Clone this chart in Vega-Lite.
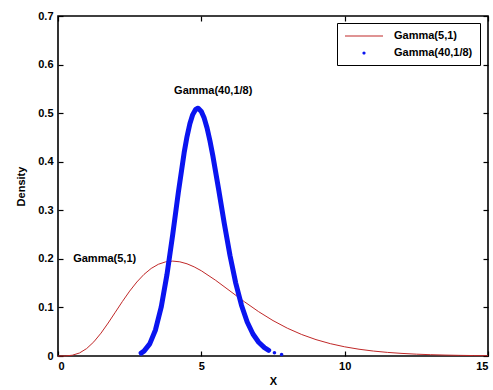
{
  "$schema": "https://vega.github.io/schema/vega-lite/v6.json",
  "width": 430,
  "height": 340,
  "autosize": {"type": "none"},
  "padding": {"left": 58, "top": 16, "right": 5, "bottom": 34},
  "background": "white",
  "config": {
    "view": {"stroke": "black", "strokeWidth": 1.6},
    "font": "Liberation Sans",
    "axis": {
      "grid": false,
      "domain": false,
      "tickColor": "black",
      "tickWidth": 1.2,
      "tickSize": 5,
      "offset": -5,
      "labelColor": "black",
      "titleColor": "black",
      "labelFont": "Liberation Sans",
      "labelFontSize": 11,
      "labelFontWeight": "bold",
      "titleFont": "Liberation Sans",
      "titleFontSize": 11,
      "titleFontWeight": "bold"
    }
  },
  "datasets": {
    "red": [
      {"x": 0, "density": 0, "series": "Gamma(5,1)"},
      {"x": 0.25, "density": 0.00013, "series": "Gamma(5,1)"},
      {"x": 0.5, "density": 0.00158, "series": "Gamma(5,1)"},
      {"x": 0.75, "density": 0.00623, "series": "Gamma(5,1)"},
      {"x": 1.0, "density": 0.01533, "series": "Gamma(5,1)"},
      {"x": 1.25, "density": 0.02914, "series": "Gamma(5,1)"},
      {"x": 1.5, "density": 0.04707, "series": "Gamma(5,1)"},
      {"x": 1.75, "density": 0.06791, "series": "Gamma(5,1)"},
      {"x": 2.0, "density": 0.09022, "series": "Gamma(5,1)"},
      {"x": 2.25, "density": 0.11255, "series": "Gamma(5,1)"},
      {"x": 2.5, "density": 0.1336, "series": "Gamma(5,1)"},
      {"x": 2.75, "density": 0.15234, "series": "Gamma(5,1)"},
      {"x": 3.0, "density": 0.16803, "series": "Gamma(5,1)"},
      {"x": 3.25, "density": 0.18024, "series": "Gamma(5,1)"},
      {"x": 3.5, "density": 0.18881, "series": "Gamma(5,1)"},
      {"x": 3.75, "density": 0.19378, "series": "Gamma(5,1)"},
      {"x": 4.0, "density": 0.19537, "series": "Gamma(5,1)"},
      {"x": 4.25, "density": 0.1939, "series": "Gamma(5,1)"},
      {"x": 4.5, "density": 0.18981, "series": "Gamma(5,1)"},
      {"x": 4.75, "density": 0.18351, "series": "Gamma(5,1)"},
      {"x": 5.0, "density": 0.17547, "series": "Gamma(5,1)"},
      {"x": 5.5, "density": 0.15582, "series": "Gamma(5,1)"},
      {"x": 6.0, "density": 0.13385, "series": "Gamma(5,1)"},
      {"x": 6.5, "density": 0.11182, "series": "Gamma(5,1)"},
      {"x": 7.0, "density": 0.09123, "series": "Gamma(5,1)"},
      {"x": 7.5, "density": 0.07292, "series": "Gamma(5,1)"},
      {"x": 8.0, "density": 0.05725, "series": "Gamma(5,1)"},
      {"x": 8.5, "density": 0.04426, "series": "Gamma(5,1)"},
      {"x": 9.0, "density": 0.03374, "series": "Gamma(5,1)"},
      {"x": 9.5, "density": 0.0254, "series": "Gamma(5,1)"},
      {"x": 10.0, "density": 0.01892, "series": "Gamma(5,1)"},
      {"x": 10.5, "density": 0.01395, "series": "Gamma(5,1)"},
      {"x": 11.0, "density": 0.01019, "series": "Gamma(5,1)"},
      {"x": 11.5, "density": 0.00738, "series": "Gamma(5,1)"},
      {"x": 12.0, "density": 0.00531, "series": "Gamma(5,1)"},
      {"x": 12.5, "density": 0.00379, "series": "Gamma(5,1)"},
      {"x": 13.0, "density": 0.00269, "series": "Gamma(5,1)"},
      {"x": 13.5, "density": 0.0019, "series": "Gamma(5,1)"},
      {"x": 14.0, "density": 0.00133, "series": "Gamma(5,1)"},
      {"x": 14.5, "density": 0.00093, "series": "Gamma(5,1)"},
      {"x": 15.0, "density": 0.00065, "series": "Gamma(5,1)"}
    ],
    "blue": [
      {"x": 2.9, "density": 0.00592, "series": "Gamma(40,1/8)"},
      {"x": 3.0, "density": 0.00997, "series": "Gamma(40,1/8)"},
      {"x": 3.2, "density": 0.02494, "series": "Gamma(40,1/8)"},
      {"x": 3.4, "density": 0.05358, "series": "Gamma(40,1/8)"},
      {"x": 3.6, "density": 0.10049, "series": "Gamma(40,1/8)"},
      {"x": 3.8, "density": 0.16716, "series": "Gamma(40,1/8)"},
      {"x": 4.0, "density": 0.24944, "series": "Gamma(40,1/8)"},
      {"x": 4.2, "density": 0.33765, "series": "Gamma(40,1/8)"},
      {"x": 4.4, "density": 0.41833, "series": "Gamma(40,1/8)"},
      {"x": 4.5, "density": 0.45155, "series": "Gamma(40,1/8)"},
      {"x": 4.6, "density": 0.47812, "series": "Gamma(40,1/8)"},
      {"x": 4.7, "density": 0.497, "series": "Gamma(40,1/8)"},
      {"x": 4.8, "density": 0.50758, "series": "Gamma(40,1/8)"},
      {"x": 4.875, "density": 0.51, "series": "Gamma(40,1/8)"},
      {"x": 4.9, "density": 0.5097, "series": "Gamma(40,1/8)"},
      {"x": 5.0, "density": 0.50357, "series": "Gamma(40,1/8)"},
      {"x": 5.1, "density": 0.48983, "series": "Gamma(40,1/8)"},
      {"x": 5.2, "density": 0.46934, "series": "Gamma(40,1/8)"},
      {"x": 5.3, "density": 0.44328, "series": "Gamma(40,1/8)"},
      {"x": 5.4, "density": 0.41293, "series": "Gamma(40,1/8)"},
      {"x": 5.6, "density": 0.34434, "series": "Gamma(40,1/8)"},
      {"x": 5.8, "density": 0.27319, "series": "Gamma(40,1/8)"},
      {"x": 6.0, "density": 0.2069, "series": "Gamma(40,1/8)"},
      {"x": 6.2, "density": 0.15005, "series": "Gamma(40,1/8)"},
      {"x": 6.4, "density": 0.10451, "series": "Gamma(40,1/8)"},
      {"x": 6.6, "density": 0.07006, "series": "Gamma(40,1/8)"},
      {"x": 6.8, "density": 0.04533, "series": "Gamma(40,1/8)"},
      {"x": 7.0, "density": 0.02834, "series": "Gamma(40,1/8)"},
      {"x": 7.2, "density": 0.01716, "series": "Gamma(40,1/8)"},
      {"x": 7.35, "density": 0.0118, "series": "Gamma(40,1/8)"}
    ],
    "bluedots": [
      {"x": 2.9, "density": 0.00592, "series": "Gamma(40,1/8)"},
      {"x": 7.55, "density": 0.0068, "series": "Gamma(40,1/8)"},
      {"x": 7.8, "density": 0.0032, "series": "Gamma(40,1/8)"}
    ],
    "notes": [
      {"x": 4.05, "density": 0.546, "label": "Gamma(40,1/8)"},
      {"x": 0.53, "density": 0.2, "label": "Gamma(5,1)"}
    ]
  },
  "layer": [
    {
      "data": {"name": "red"},
      "mark": {"type": "line", "color": "#c02828", "strokeWidth": 1},
      "encoding": {
        "x": {"field": "x", "type": "quantitative", "scale": {"domain": [0, 15], "nice": false},
              "axis": {"values": [0, 5, 10, 15], "title": "X", "labelPadding": 4, "titlePadding": 4}},
        "y": {"field": "density", "type": "quantitative", "scale": {"domain": [0, 0.7], "nice": false},
              "axis": {"values": [0, 0.1, 0.2, 0.3, 0.4, 0.5, 0.6, 0.7], "format": ".1~f", "title": "Density", "labelPadding": 5, "titlePadding": 11}}
      }
    },
    {
      "data": {"name": "blue"},
      "mark": {"type": "line", "color": "#0a14f0", "strokeWidth": 5, "strokeCap": "round", "strokeJoin": "round"},
      "encoding": {
        "x": {"field": "x", "type": "quantitative", "axis": {"orient": "top", "labels": false, "title": null, "values": [0, 5, 10, 15]}},
        "y": {"field": "density", "type": "quantitative", "axis": {"orient": "right", "labels": false, "title": null, "values": [0, 0.1, 0.2, 0.3, 0.4, 0.5, 0.6, 0.7]}}
      }
    },
    {
      "data": {"name": "bluedots"},
      "mark": {"type": "point", "filled": true, "opacity": 1, "size": 120},
      "encoding": {
        "x": {"field": "x", "type": "quantitative", "axis": null},
        "y": {"field": "density", "type": "quantitative", "axis": null},
        "color": {"field": "series", "type": "nominal",
                  "scale": {"domain": ["Gamma(5,1)", "Gamma(40,1/8)"], "range": ["#c02828", "#0a14f0"]},
                  "legend": {"title": null, "orient": "none", "legendX": 279, "legendY": 7,
                             "fillColor": "white", "strokeColor": "black", "padding": 7,
                             "labelFont": "Liberation Sans", "labelFontSize": 11, "labelFontWeight": "bold", "labelColor": "black",
                             "symbolSize": 100, "rowPadding": 6, "symbolOffset": 14, "labelOffset": 24}},
        "shape": {"field": "series", "type": "nominal",
                  "scale": {"domain": ["Gamma(5,1)", "Gamma(40,1/8)"], "range": ["M-3.8,-0.1H3.8V0.1H-3.8Z", "M-0.32,0A0.32,0.32 0 1,1 0.32,0A0.32,0.32 0 1,1 -0.32,0Z"]},
                  "legend": {"title": null}}
      }
    },
    {
      "data": {"name": "notes"},
      "mark": {"type": "text", "align": "left", "baseline": "middle", "font": "Liberation Sans", "fontSize": 11, "fontWeight": "bold", "color": "black"},
      "encoding": {
        "x": {"field": "x", "type": "quantitative", "axis": null},
        "y": {"field": "density", "type": "quantitative", "axis": null},
        "text": {"field": "label"}
      }
    }
  ],
  "resolve": {"axis": {"x": "independent", "y": "independent"}}
}
